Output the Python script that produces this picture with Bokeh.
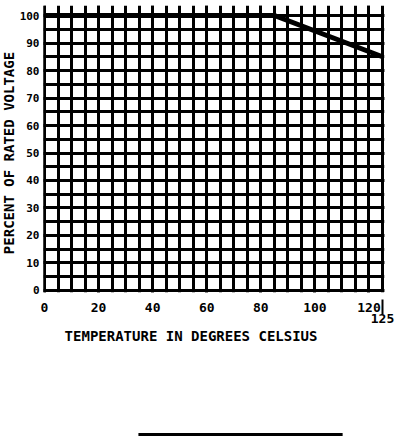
import math
from bokeh.plotting import figure
from bokeh.layouts import column, row
from bokeh.models import FixedTicker, Range1d, LinearAxis
from bokeh.core.properties import value
from bokeh.embed import file_html
from bokeh.resources import INLINE

# ---- data ----
temps = [0, 85, 125]          # degrees Celsius
pct_voltage = [100, 100, 85]  # percent of rated voltage

x_major = [0, 20, 40, 60, 80, 100, 120]
x_minor = list(range(0, 130, 5))
x_end_tick = [125]
y_major = [0, 10, 20, 30, 40, 50, 60, 70, 80, 90, 100]
y_minor = list(range(0, 105, 5))

x_title = "TEMPERATURE IN DEGREES CELSIUS"
y_title = "PERCENT OF RATED VOLTAGE"

FONT = "DejaVu Sans Mono"
X_RANGE = Range1d(-0.37, 125.74)
Y_RANGE = Range1d(-0.73, 103.64)

TOP_H = 327          # height of the row holding the grid
LEFT_W = 16          # strip for the vertical title
BOTTOM_H = 436 - TOP_H

# ---- main grid figure ----
p = figure(width=396 - LEFT_W, height=TOP_H, output_backend="svg",
           toolbar_location=None, x_range=X_RANGE, y_range=Y_RANGE,
           min_border_left=42 - LEFT_W, min_border_right=12, min_border_top=5,
           min_border_bottom=TOP_H - 292)
p.outline_line_color = None

p.xaxis.ticker = FixedTicker(ticks=x_major, minor_ticks=x_minor)
p.yaxis.ticker = FixedTicker(ticks=y_major, minor_ticks=y_minor)


def style_axis(ax, size="13px"):
    ax.axis_line_color = None
    ax.major_tick_line_color = None
    ax.minor_tick_line_color = None
    ax.major_tick_out = 0
    ax.major_tick_in = 0
    ax.major_label_text_font = FONT
    ax.major_label_text_font_style = "bold"
    ax.major_label_text_font_size = size
    ax.major_label_text_color = "black"


style_axis(p.xaxis[0])
style_axis(p.yaxis[0], "11px")

p.yaxis.major_label_standoff = 0
p.xaxis.major_label_standoff = 6

# second bottom axis carrying the 125 end mark
ax2 = LinearAxis(ticker=FixedTicker(ticks=x_end_tick, minor_ticks=[]))
style_axis(ax2)
ax2.major_tick_line_color = "black"
ax2.major_tick_line_width = 2
ax2.major_tick_in = 15
ax2.major_label_standoff = -1
p.add_layout(ax2, "below")

for g in (p.xgrid, p.ygrid):
    g.grid_line_color = "black"
    g.grid_line_width = 3
    g.grid_line_alpha = 1
    g.minor_grid_line_color = "black"
    g.minor_grid_line_width = 3

p.line(temps, pct_voltage, line_width=5, line_color="black", line_join="miter")

# ---- left strip: vertical axis title, sharing the y scale ----
left = figure(width=LEFT_W, height=TOP_H, output_backend="svg",
              toolbar_location=None, x_range=Range1d(0, LEFT_W), y_range=Y_RANGE,
              min_border_left=0, min_border_right=0, min_border_top=5,
              min_border_bottom=TOP_H - 292)
left.axis.visible = False
left.grid.visible = False
left.outline_line_color = None
left.text(x=[8], y=[50], text=[y_title], angle=math.pi / 2,
          text_align="center", text_baseline="middle",
          text_font=value(FONT), text_font_style="bold",
          text_font_size="14px", text_color="black")

# ---- bottom strip: horizontal title and decorative rule, sharing x scale ----
q = figure(width=396, height=BOTTOM_H, output_backend="svg",
           toolbar_location=None, x_range=X_RANGE, y_range=Range1d(0, BOTTOM_H),
           min_border_left=42, min_border_right=12, min_border_top=0,
           min_border_bottom=0)
q.axis.visible = False
q.grid.visible = False
q.outline_line_color = None
q.text(x=[54.4], y=[BOTTOM_H - 8.5], text=[x_title],
       text_align="center", text_baseline="middle",
       text_font=value(FONT), text_font_style="bold",
       text_font_size="14px", text_color="black")
q.line([35, 110.3], [2, 2], line_width=3, line_color="black")

layout = column(row(left, p, spacing=0), q, spacing=0)
open("out.html", "w").write(file_html(layout, INLINE))
